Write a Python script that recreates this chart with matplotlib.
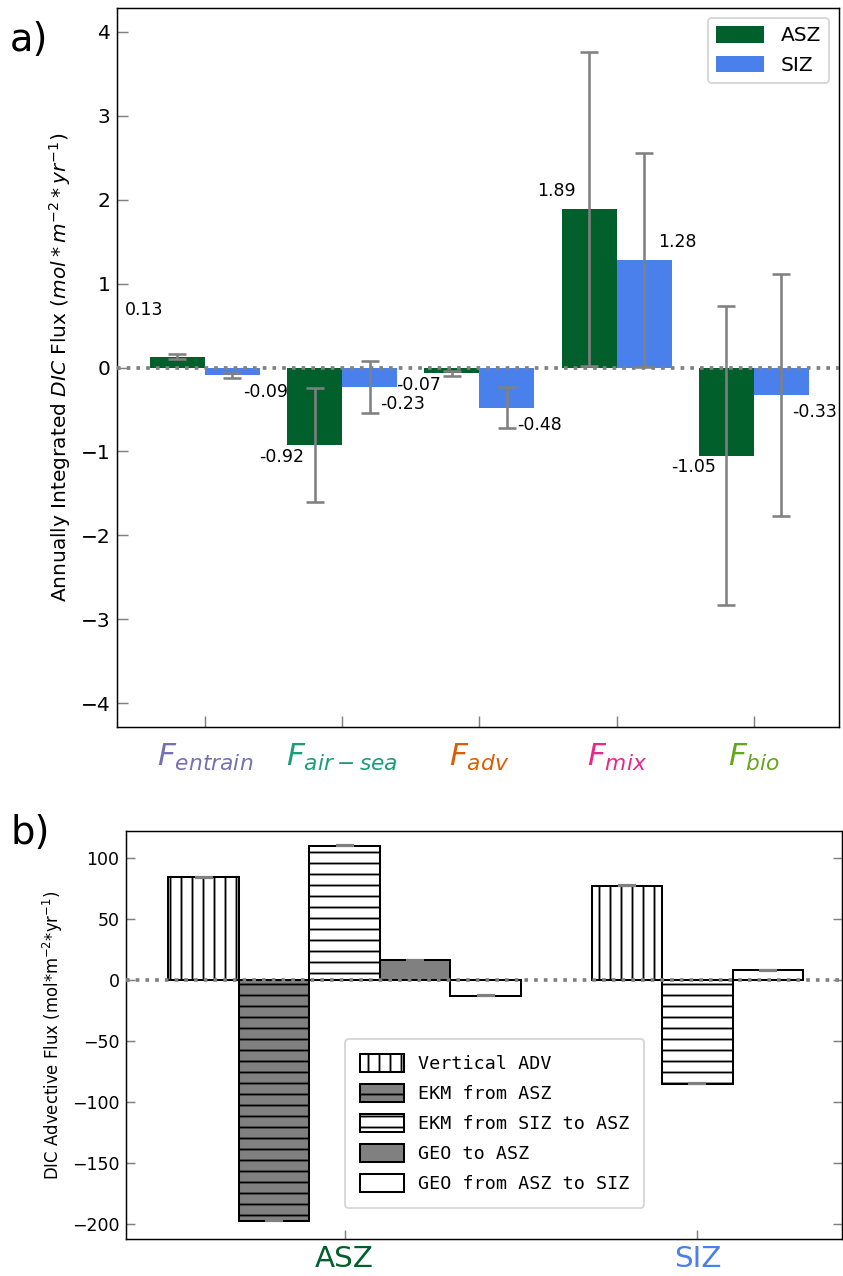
import numpy as np
import matplotlib
matplotlib.use('Agg')
import matplotlib.pyplot as plt

# panel a) annually integrated DIC fluxes
terms = ['$F_{entrain}$', '$F_{air-sea}$', '$F_{adv}$', '$F_{mix}$', '$F_{bio}$']
term_colors = ['#7570b3', '#1b9e77', '#d95f02', '#e7298a', '#66a61e']
asz_vals = [0.13, -0.92, -0.07, 1.89, -1.05]
asz_err = [0.03, 0.68, 0.03, 1.87, 1.78]
siz_vals = [-0.09, -0.23, -0.48, 1.28, -0.33]
siz_err = [0.03, 0.31, 0.245, 1.27, 1.44]

# panel b) advective components
regions = ['ASZ', 'SIZ']
adv_labels = ['Vertical ADV', 'EKM from ASZ', 'EKM from SIZ to ASZ',
              'GEO to ASZ', 'GEO from ASZ to SIZ']
asz_adv = [84, -197, 110, 16, -13]
siz_adv = [77, -85, 8]
siz_adv_comp = [0, 2, 4]   # which components exist for SIZ
adv_err = 0.4

c_asz = '#005f2b'
c_siz = '#4a80ec'

fig = plt.figure(figsize=(843 / 132, 1276 / 132), dpi=132)

# ---------------- a)
ax1 = fig.add_axes([117 / 843, 1 - 727 / 1276, (839 - 117) / 843, (727 - 8) / 1276])
x = np.arange(len(terms))
w = 0.4
ax1.bar(x - w / 2, asz_vals, w, color=c_asz, label='ASZ')
ax1.bar(x + w / 2, siz_vals, w, color=c_siz, label='SIZ')
ax1.errorbar(x - w / 2, asz_vals, yerr=asz_err, fmt='none', ecolor='gray',
             elinewidth=1.4, capsize=5, capthick=1.4, zorder=4)
ax1.errorbar(x + w / 2, siz_vals, yerr=siz_err, fmt='none', ecolor='gray',
             elinewidth=1.4, capsize=5, capthick=1.4, zorder=4)
ax1.axhline(0, color='gray', ls=':', lw=2, zorder=5)

for i in range(len(terms)):
    v = asz_vals[i]
    yy = max(v + 0.21, 0.68) if v > 0 else v - 0.14
    ax1.text(x[i] - 0.44, yy, '%.2f' % v, ha='center', va='center', fontsize=9.5)
    v = siz_vals[i]
    yy = v + 0.21 if v > 0 else v - 0.2
    ax1.text(x[i] + 0.44, yy, '%.2f' % v, ha='center', va='center', fontsize=9.5)

ax1.set_xlim(-0.64, 4.62)
ax1.set_ylim(-4.28, 4.28)
ax1.set_yticks(range(-4, 5))
ax1.set_xticks(x)
ax1.set_xticklabels(terms, fontsize=17)
for lab, c in zip(ax1.get_xticklabels(), term_colors):
    lab.set_color(c)
ax1.tick_params(axis='both', direction='in', color='gray', length=6)
ax1.tick_params(axis='y', labelsize=11)
ax1.tick_params(axis='x', pad=8)
ax1.set_ylabel('Annually Integrated $DIC$ Flux ($mol*m^{-2}*yr^{-1}$)', fontsize=11)
ax1.legend(loc='upper right', fontsize=11, handlelength=2.4, handleheight=0.9)
fig.text(10 / 843, 1 - 40 / 1276, 'a)', fontsize=21, va='center')

# ---------------- b)
ax2 = fig.add_axes([126 / 843, 1 - 1239 / 1276, (842 - 126) / 843, (1239 - 831) / 1276])
bw = 0.2
styles = [dict(color='white', hatch='||'),
          dict(color='gray', hatch='--'),
          dict(color='white', hatch='--'),
          dict(color='gray', hatch=''),
          dict(color='white', hatch='')]
asz_pos = [(k - 2) * bw for k in range(len(adv_labels))]
for k in range(len(adv_labels)):
    ax2.bar(asz_pos[k], asz_adv[k], bw, edgecolor='black', linewidth=1.1,
            label=adv_labels[k], **styles[k])
siz_pos = [1 + (j - 1) * bw for j in range(len(siz_adv))]
for p, v, k in zip(siz_pos, siz_adv, siz_adv_comp):
    ax2.bar(p, v, bw, edgecolor='black', linewidth=1.1, **styles[k])
ax2.errorbar(asz_pos, asz_adv, yerr=adv_err, fmt='none',
             ecolor='gray', elinewidth=1, capsize=5, capthick=1.2, zorder=4)
ax2.errorbar(siz_pos, siz_adv, yerr=adv_err, fmt='none',
             ecolor='gray', elinewidth=1, capsize=5, capthick=1.2, zorder=4)
ax2.axhline(0, color='gray', ls=':', lw=2, zorder=5)

ax2.set_xlim(-0.62, 1.41)
ax2.set_ylim(-212, 122)
ax2.set_xticks([0, 1])
ax2.set_xticklabels(regions, fontsize=16)
ax2.get_xticklabels()[0].set_color(c_asz)
ax2.get_xticklabels()[1].set_color(c_siz)
ax2.tick_params(axis='both', direction='in', color='gray', length=5)
ax2.tick_params(axis='y', labelsize=9.5, right=True)
ax2.set_ylabel('DIC Advective Flux (mol*m$^{-2}$*yr$^{-1}$)', fontsize=9)
ax2.legend(loc='lower left', bbox_to_anchor=(0.306, 0.076), borderaxespad=0,
           prop={'family': 'DejaVu Sans Mono', 'size': 10},
           handlelength=2.4, handleheight=1.1, labelspacing=0.6, borderpad=0.8)
fig.text(10 / 843, 1 - 833 / 1276, 'b)', fontsize=21, va='center')

fig.savefig('out.png', dpi=132)
